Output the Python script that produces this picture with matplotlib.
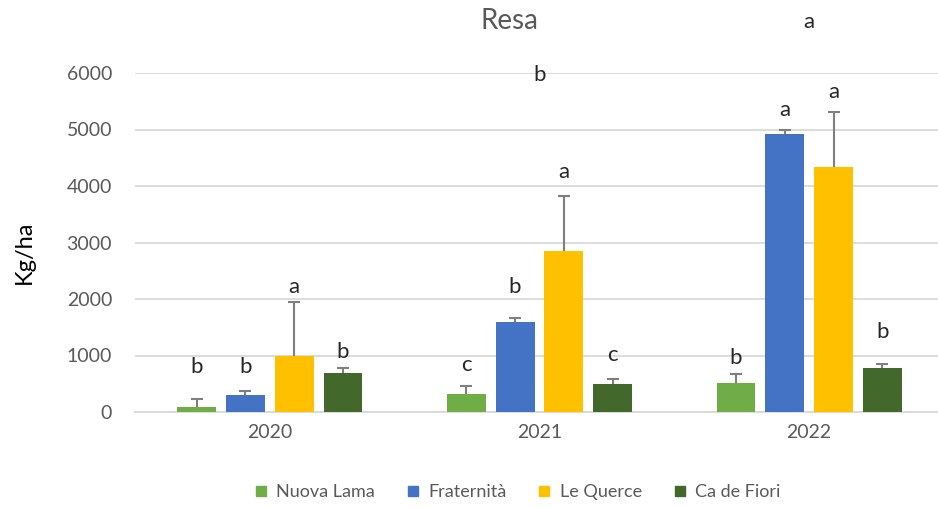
import matplotlib
matplotlib.use("Agg")
import matplotlib.pyplot as plt
import numpy as np
from matplotlib.lines import Line2D

plt.rcParams['font.family'] = ['Lato', 'DejaVu Sans']

years = ["2020", "2021", "2022"]
series = ["Nuova Lama", "Fraternità", "Le Querce", "Ca de Fiori"]
colors = ["#70AD47", "#4472C4", "#FFC000", "#43682B"]

nuova_lama = [90, 320, 510]
fraternita = [300, 1590, 4920]
le_querce = [1000, 2850, 4340]
ca_de_fiori = [690, 500, 780]

err_nuova_lama = [140, 140, 160]
err_fraternita = [70, 70, 70]
err_le_querce = [950, 970, 970]
err_ca_de_fiori = [90, 80, 70]

letters_nuova_lama = ["b", "c", "b"]
letters_fraternita = ["b", "b", "a"]
letters_le_querce = ["a", "a", "a"]
letters_ca_de_fiori = ["b", "c", "b"]

lety_nuova_lama = [800, 830, 955]
lety_fraternita = [800, 2210, 5345]
lety_le_querce = [2212, 4250, 5660]
lety_ca_de_fiori = [1062, 1010, 1415]

# stray labels near the top of the chart (group index, y value, text)
stray_groups = [1, 2]
stray_y = [5970, 6900]
stray_text = ["b", "a"]

values = [nuova_lama, fraternita, le_querce, ca_de_fiori]
errors = [err_nuova_lama, err_fraternita, err_le_querce, err_ca_de_fiori]
letters = [letters_nuova_lama, letters_fraternita, letters_le_querce, letters_ca_de_fiori]
lety = [lety_nuova_lama, lety_fraternita, lety_le_querce, lety_ca_de_fiori]

fig = plt.figure(figsize=(9.38, 5.07), dpi=100)
ax = fig.add_axes([135/938, 1-412/507, (944-135)/938, (412-73)/507])

x = np.arange(len(years))
step = 0.181
width = 0.144
offsets = (np.arange(4) - 1.5) * step

for i in range(4):
    xs = x + offsets[i]
    vals = np.array(values[i])
    tops = vals + np.array(errors[i])
    ax.bar(xs, vals, width=width, color=colors[i], zorder=3, label=series[i])
    ax.vlines(xs, vals, tops, colors='#7F7F7F', linewidth=1.5, zorder=4)
    ax.plot(xs, tops, linestyle='none', marker='_', markersize=9,
            markeredgewidth=1.5, color='#7F7F7F', zorder=4)
    for j in range(3):
        ax.text(xs[j], lety[i][j], letters[i][j], ha='center', va='center',
                fontsize=16, color='#262626', zorder=5)

for g, yv, t in zip(stray_groups, stray_y, stray_text):
    ax.text(x[g], yv, t, ha='center', va='center', fontsize=16, color='#262626',
            clip_on=False)

ax.set_xlim(-0.5, 2.5)
ax.set_ylim(0, 6000)
ax.set_yticks(np.arange(0, 6001, 1000))
ax.set_xticks(x)
ax.set_xticklabels(years)
ax.yaxis.grid(True, color='#D9D9D9', linewidth=1.3, zorder=0)
ax.set_axisbelow(True)
for s in ['top', 'right', 'left']:
    ax.spines[s].set_visible(False)
ax.spines['bottom'].set_color('#D9D9D9')
ax.spines['bottom'].set_linewidth(1.3)
ax.tick_params(axis='both', length=0, labelsize=14, labelcolor='#595959')
ax.tick_params(axis='y', pad=16.5)
ax.tick_params(axis='x', pad=9)

fig.text(24/938, 1-252/507, "Kg/ha", rotation=90, ha='center', va='center',
         fontsize=17, color='#000000')
fig.text(509/938, 1-29/507, "Resa", ha='center', va='baseline', fontsize=20,
         color='#595959')

handles = [Line2D([0], [0], marker='s', linestyle='none', markersize=7,
                  markerfacecolor=c, markeredgecolor=c) for c in colors]
fig.legend(handles, series, loc='center', bbox_to_anchor=(517/938, 1-492/507),
           ncol=4, frameon=False, fontsize=13, labelcolor='#595959',
           handletextpad=0.45, columnspacing=1.7, handlelength=0.8)

fig.savefig("out.png", dpi=100)
